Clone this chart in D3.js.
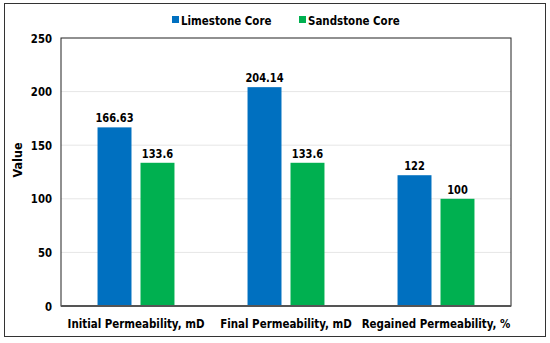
<!DOCTYPE html>
<html><head><meta charset="utf-8">
<script src="https://cdn.jsdelivr.net/npm/d3@7"></script>
<style>body{margin:0;background:#fff}svg{display:block}text{font-family:"DejaVu Sans Condensed","DejaVu Sans",sans-serif;font-weight:bold;fill:#000}</style>
</head><body>
<svg id="c" width="550" height="343"></svg>
<script>
const categories = ["Initial Permeability, mD","Final Permeability, mD","Regained Permeability, %"];
const seriesNames = ["Limestone Core","Sandstone Core"];
const limestone = [166.63, 204.14, 122];
const sandstone = [133.6, 133.6, 100];
const labelsL = ["166.63","204.14","122"];
const labelsS = ["133.6","133.6","100"];
const yTicks = [0,50,100,150,200,250];
const colors = ["#0070C0","#00B050"];

const FONT = '"DejaVu Sans Condensed","DejaVu Sans",sans-serif';
function squeeze(sel, f){
  sel.each(function(){
    const w = this.getComputedTextLength();
    d3.select(this).attr("textLength", w*f).attr("lengthAdjust","spacingAndGlyphs");
  });
}

const svg = d3.select("#c");
svg.append("rect").attr("x",4.5).attr("y",3.5).attr("width",541).attr("height",333)
  .attr("fill","#fff").attr("stroke","#333").attr("stroke-width",1);

const m = {l:61,r:511,t:38,b:306};
const x = d3.scaleBand().domain(categories).range([m.l,m.r]).paddingInner(0).paddingOuter(0);
const x1 = d3.scaleBand().domain(seriesNames).range([0,x.bandwidth()]).paddingInner(0.21).paddingOuter(0.85);
const y = d3.scaleLinear().domain([0,250]).range([m.b,m.t]);

// gridlines
svg.append("g").selectAll("line").data(yTicks.filter(d=>d>0&&d<250)).join("line")
  .attr("x1",m.l).attr("x2",m.r).attr("y1",d=>y(d)).attr("y2",d=>y(d))
  .attr("stroke","#e6e6e6").attr("stroke-width",1);

const data = categories.map((c,i)=>({c, vals:[limestone[i],sandstone[i]], labs:[labelsL[i],labelsS[i]]}));
const g = svg.append("g").selectAll("g").data(data).join("g")
  .attr("transform",d=>`translate(${x(d.c)},0)`);
g.selectAll("rect").data(d=>d.vals.map((v,k)=>({v,k,lab:d.labs[k]}))).join("rect")
  .attr("x",d=>x1(seriesNames[d.k])).attr("width",x1.bandwidth())
  .attr("y",d=>y(d.v)).attr("height",d=>y(0)-y(d.v)).attr("fill",d=>colors[d.k]);
g.selectAll("text").data(d=>d.vals.map((v,k)=>({v,k,lab:d.labs[k]}))).join("text")
  .attr("x",d=>x1(seriesNames[d.k])+x1.bandwidth()/2).attr("y",d=>y(d.v)-5)
  .attr("text-anchor","middle").attr("font-size",12.5).text(d=>d.lab)
  .call(squeeze,0.88);

// plot border
svg.append("rect").attr("x",m.l).attr("y",m.t).attr("width",m.r-m.l).attr("height",m.b-m.t)
  .attr("fill","none").attr("stroke","#222").attr("stroke-width",1);
svg.append("line").attr("x1",m.l).attr("x2",m.r).attr("y1",m.b).attr("y2",m.b).attr("stroke","#555").attr("stroke-width",2);

// y axis
const ya = svg.append("g").attr("transform",`translate(${m.l},0)`)
  .call(d3.axisLeft(y).tickValues(yTicks).tickSize(0).tickPadding(9));
ya.select(".domain").remove();
ya.selectAll("text").attr("font-size",12.5).style("font-family",FONT).style("font-weight","bold").call(squeeze,0.9);

// x axis
const xa = svg.append("g").attr("transform",`translate(0,${m.b})`)
  .call(d3.axisBottom(x).tickSize(0).tickPadding(13));
xa.select(".domain").remove();
xa.selectAll("text").attr("font-size",13).style("font-family",FONT).style("font-weight","bold").call(squeeze,0.88);

svg.append("text").attr("transform","translate(22,160) rotate(-90)").attr("text-anchor","middle")
  .attr("font-size",12.5).text("Value");

// legend
const lx = [172,299];
seriesNames.forEach((s,i)=>{
  svg.append("rect").attr("x",lx[i]).attr("y",16).attr("width",7).attr("height",7).attr("fill",colors[i]);
  svg.append("text").attr("x",lx[i]+9).attr("y",24.5).attr("font-size",13).text(s).call(squeeze,0.88);
});
</script>
</body></html>
